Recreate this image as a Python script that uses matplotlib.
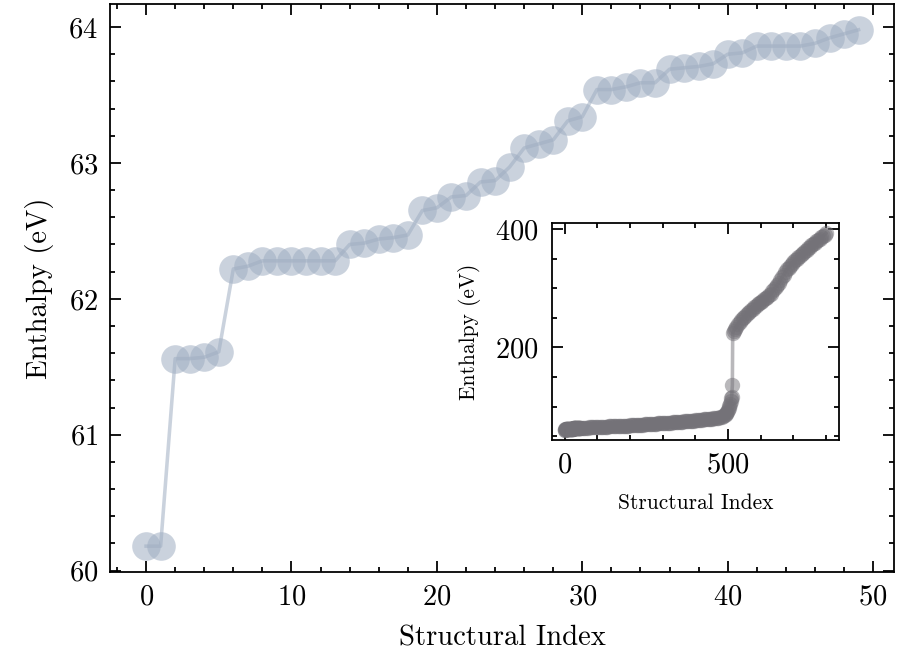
import matplotlib

matplotlib.use("Agg")
import matplotlib.pyplot as plt
from matplotlib.ticker import AutoMinorLocator, MultipleLocator

# first 50 structures (sorted enthalpy)
main_idx = list(range(50))
main_enthalpy = [
    60.18, 60.18, 61.56, 61.56, 61.57, 61.61, 62.22, 62.24, 62.28, 62.28,
    62.28, 62.28, 62.28, 62.28, 62.40, 62.41, 62.44, 62.45, 62.47, 62.65,
    62.67, 62.75, 62.76, 62.86, 62.87, 62.97, 63.11, 63.14, 63.17, 63.31,
    63.34, 63.54, 63.54, 63.56, 63.59, 63.59, 63.69, 63.70, 63.71, 63.73,
    63.80, 63.81, 63.86, 63.86, 63.86, 63.86, 63.88, 63.92, 63.95, 63.98,
]

# rest of the set (lower branch, jump, upper branch)
rest_idx = [
    55, 60, 65, 70, 75, 80, 85, 90, 95, 100,
    105, 110, 115, 120, 125, 130, 135, 140, 145, 150,
    155, 160, 165, 170, 175, 180, 185, 190, 195, 200,
    205, 210, 215, 220, 225, 230, 235, 240, 245, 250,
    255, 260, 265, 270, 275, 280, 285, 290, 295, 300,
    305, 310, 315, 320, 325, 330, 335, 340, 345, 350,
    355, 360, 365, 370, 375, 380, 385, 390, 395, 400,
    405, 410, 415, 420, 425, 430, 435, 440, 445, 450,
    455, 460, 465, 470, 475, 480, 485, 490, 493, 495,
    498, 500, 502, 504, 506, 508, 510, 511, 513, 514,
    517, 520, 525, 530, 535, 540, 545, 550, 555, 560,
    565, 570, 575, 580, 585, 590, 595, 600, 605, 610,
    615, 620, 625, 630, 635, 640, 645, 650, 655, 660,
    665, 670, 675, 680, 685, 690, 695, 700, 705, 710,
    715, 720, 725, 730, 735, 740, 745, 750, 755, 760,
    765, 770, 775, 780, 785, 790, 795, 799,
]
rest_enthalpy = [
    64.1, 64.3, 64.45, 64.6, 64.75, 64.9, 65.05, 65.2, 65.35, 65.5,
    65.6, 65.7, 65.85, 66.0, 66.15, 66.3, 66.4, 66.5, 66.65, 66.8,
    66.95, 67.1, 67.25, 67.4, 67.55, 67.7, 67.8, 67.9, 68.05, 68.2,
    68.35, 68.5, 68.65, 68.8, 69.0, 69.2, 69.4, 69.6, 69.85, 70.1,
    70.35, 70.6, 70.8, 71.0, 71.2, 71.4, 71.6, 71.8, 71.95, 72.1,
    72.3, 72.5, 72.7, 72.9, 73.1, 73.3, 73.5, 73.7, 73.9, 74.1,
    74.35, 74.6, 74.85, 75.1, 75.35, 75.6, 75.85, 76.1, 76.45, 76.8,
    77.1, 77.4, 77.7, 78.0, 78.3, 78.6, 78.9, 79.2, 79.5, 79.8,
    80.15, 80.5, 80.9, 81.3, 81.8, 82.5, 83.6, 85.5, 87.5, 89.0,
    91.5, 94.0, 97.0, 101.0, 105.0, 109.0, 114.0, 117.0, 137.0, 224.0,
    228.0, 231.0, 235.0, 239.0, 243.0, 246.0, 249.0, 252.0, 255.0, 258.0,
    260.5, 263.0, 265.5, 268.0, 270.5, 273.0, 275.0, 277.0, 279.0, 281.0,
    283.0, 285.0, 288.0, 291.0, 294.5, 298.0, 301.5, 305.0, 309.5, 314.0,
    318.5, 323.0, 327.5, 332.0, 335.0, 338.0, 341.0, 344.0, 347.0, 350.0,
    352.5, 355.0, 357.5, 360.0, 362.5, 365.0, 367.5, 370.0, 372.5, 375.0,
    377.0, 379.0, 381.5, 384.0, 386.0, 388.0, 390.5, 393.0,
]

plt.rcParams.update({
    "font.family": "serif",
    "font.serif": ["cmr10"],
    "mathtext.fontset": "cm",
    "axes.formatter.use_mathtext": True,
    "font.size": 8,
    "axes.linewidth": 0.5,
    "xtick.direction": "in",
    "ytick.direction": "in",
    "xtick.top": True,
    "ytick.right": True,
    "xtick.major.size": 3,
    "ytick.major.size": 3,
    "xtick.minor.size": 1.5,
    "ytick.minor.size": 1.5,
    "xtick.major.width": 0.5,
    "ytick.major.width": 0.5,
    "xtick.minor.width": 0.5,
    "ytick.minor.width": 0.5,
    "xtick.minor.visible": True,
    "ytick.minor.visible": True,
})

fig = plt.figure(figsize=(3.5, 2.572), dpi=257.4)
ax = fig.add_axes([0.1226, 0.136, 0.870, 0.858])
ax.plot(main_idx, main_enthalpy, "o-", color="#a0aec2", alpha=0.55,
        markersize=8, markeredgewidth=0, linewidth=1.0)
ax.set_xlabel("Structural Index")
ax.set_ylabel("Enthalpy (eV)")
ax.yaxis.set_major_locator(MultipleLocator(1))
ax.xaxis.set_minor_locator(AutoMinorLocator())
ax.yaxis.set_minor_locator(AutoMinorLocator(5))

ins = fig.add_axes([0.6123, 0.3353, 0.3189, 0.3273])
ins.plot(main_idx + rest_idx, main_enthalpy + rest_enthalpy, "o-",
         color="#747278", alpha=0.5, markersize=4.3, markeredgewidth=0,
         linewidth=1.0)
ins.xaxis.set_major_locator(MultipleLocator(500))
ins.yaxis.set_major_locator(MultipleLocator(200))
ins.xaxis.set_minor_locator(AutoMinorLocator(5))
ins.yaxis.set_minor_locator(AutoMinorLocator(4))
ins.set_xlabel("Structural Index", fontsize=6)
ins.set_ylabel("Enthalpy (eV)", fontsize=6)

fig.savefig("out.png", dpi=257.4)
